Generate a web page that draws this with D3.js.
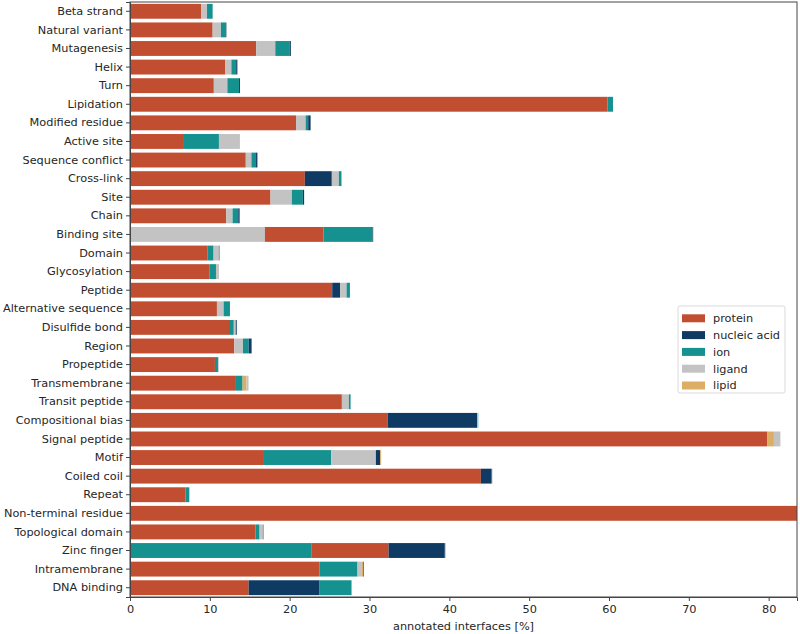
<!DOCTYPE html>
<html>
<head>
<meta charset="utf-8">
<script src="https://cdn.jsdelivr.net/npm/d3@7"></script>
<style>
  body { margin: 0; background: #fff; }
  text { font-family: "DejaVu Sans", sans-serif; fill: #262626; }
</style>
</head>
<body>
<svg width="800" height="634"></svg>
<script>
// feature categories, top to bottom
var categories = ["Beta strand", "Natural variant", "Mutagenesis", "Helix", "Turn", "Lipidation",
  "Modified residue", "Active site", "Sequence conflict", "Cross-link", "Site", "Chain",
  "Binding site", "Domain", "Glycosylation", "Peptide", "Alternative sequence", "Disulfide bond",
  "Region", "Propeptide", "Transmembrane", "Transit peptide", "Compositional bias",
  "Signal peptide", "Motif", "Coiled coil", "Repeat", "Non-terminal residue",
  "Topological domain", "Zinc finger", "Intramembrane", "DNA binding"];

var types = ["protein", "nucleic acid", "ion", "ligand", "lipid"];
var colors = ["#c24e31", "#0f3a63", "#15918f", "#c3c3c3", "#dcae64"];

// share of annotated interfaces [%] per interaction type
var protein = [8.9, 10.35, 15.8, 11.9, 10.5, 59.8,
  20.8, 6.76, 14.5, 21.9, 17.6, 12.06,
  7.35, 9.68, 9.98, 25.33, 10.89, 12.4,
  13.05, 10.64, 13.27, 26.54, 32.27,
  79.8, 16.78, 43.95, 6.97, 84,
  15.73, 9.69, 23.75, 14.86];
var nucleic = [0, 0.05, 0.15, 0.15, 0.12, 0,
  0.3, 0, 0.17, 3.38, 0.16, 0.17,
  0.08, 0.06, 0, 1.0, 0, 0.12,
  0.37, 0, 0, 0, 11.2,
  0, 0.54, 1.35, 0, 0,
  0.06, 7.05, 0.08, 8.89];
var ion = [0.7, 0.63, 1.8, 0.6, 1.45, 0.7,
  0.32, 4.38, 0.58, 0.33, 1.38, 0.71,
  6.13, 0.79, 0.79, 0.42, 0.79, 0.6,
  0.71, 0.38, 0.83, 0.21, 0.05,
  0, 8.42, 0.05, 0.42, 0,
  0.5, 22.7, 4.75, 4.0];
var ligand = [0.75, 1.04, 2.4, 0.8, 1.7, 0,
  1.2, 2.63, 0.71, 0.88, 2.67, 0.79,
  16.9, 0.67, 0.37, 0.8, 0.84, 0.25,
  1.1, 0.1, 0.25, 0.88, 0.1,
  0.81, 5.6, 0.05, 0.1, 0,
  0.42, 0.12, 0.55, 0];
var lipid = [0, 0, 0, 0, 0, 0,
  0, 0, 0, 0, 0, 0,
  0, 0, 0, 0, 0, 0,
  0, 0, 0.5, 0, 0,
  0.86, 0.12, 0, 0, 0,
  0, 0, 0.15, 0];

var xTicks = [0, 10, 20, 30, 40, 50, 60, 70, 80];
var xMax = 83.55;

var series = [protein, nucleic, ion, ligand, lipid];
var fontSize = "11.3px";

var svg = d3.select("svg"),
    margin = {top: 2, right: 3, bottom: 37, left: 130},
    width = +svg.attr("width") - margin.left - margin.right,
    height = +svg.attr("height") - margin.top - margin.bottom,
    g = svg.append("g").attr("transform", "translate(" + margin.left + "," + margin.top + ")");

var x = d3.scaleLinear().domain([0, xMax]).range([0, width]);
var y = d3.scaleBand().domain(categories).range([0, height]).paddingInner(0.2).paddingOuter(0.1);

// each row is stacked with the largest part first
var segs = [];
categories.forEach(function(c, i) {
  var parts = types.map(function(t, k) { return {cat: c, k: k, v: series[k][i]}; })
    .filter(function(p) { return p.v > 0; })
    .sort(function(a, b) { return b.v - a.v; });
  var acc = 0;
  parts.forEach(function(p) { p.x0 = acc; acc += p.v; p.x1 = acc; segs.push(p); });
});

svg.append("defs").append("clipPath").attr("id", "clip")
  .append("rect").attr("width", width).attr("height", height);

g.append("g").attr("clip-path", "url(#clip)")
  .selectAll("rect").data(segs).enter().append("rect")
    .attr("x", function(d) { return x(d.x0); })
    .attr("y", function(d) { return y(d.cat); })
    .attr("width", function(d) { return x(d.x1) - x(d.x0); })
    .attr("height", y.bandwidth())
    .attr("fill", function(d) { return colors[d.k]; });

// frame
g.append("rect").attr("width", width).attr("height", height)
  .attr("fill", "none").attr("stroke", "#444").attr("stroke-width", 1);

var xAxis = g.append("g").attr("transform", "translate(0," + height + ")")
  .call(d3.axisBottom(x).tickValues(xTicks).tickSize(4).tickPadding(4));
var yAxis = g.append("g")
  .call(d3.axisLeft(y).tickSize(4).tickPadding(3));
[xAxis, yAxis].forEach(function(a) {
  a.select(".domain").attr("stroke", "#444");
  a.selectAll(".tick line").attr("stroke", "#444");
  a.selectAll("text").style("font-size", fontSize).attr("fill", "#262626");
});

svg.append("text")
  .attr("x", margin.left + width / 2).attr("y", 630)
  .attr("text-anchor", "middle").style("font-size", fontSize)
  .text("annotated interfaces [%]");

// legend
var lg = svg.append("g").attr("transform", "translate(678,306)");
lg.append("rect").attr("width", 107).attr("height", 87).attr("rx", 2)
  .attr("fill", "#fff").attr("fill-opacity", 0.8).attr("stroke", "#d9d9d9");
var item = lg.selectAll(".item").data(types).enter().append("g")
  .attr("transform", function(d, i) { return "translate(4," + (8.3 + i * 16.8) + ")"; });
item.append("rect").attr("width", 23).attr("height", 8)
  .attr("fill", function(d, i) { return colors[i]; });
item.append("text").attr("x", 31).attr("y", 4).attr("dy", "0.35em")
  .style("font-size", fontSize).text(function(d) { return d; });
</script>
</body>
</html>
